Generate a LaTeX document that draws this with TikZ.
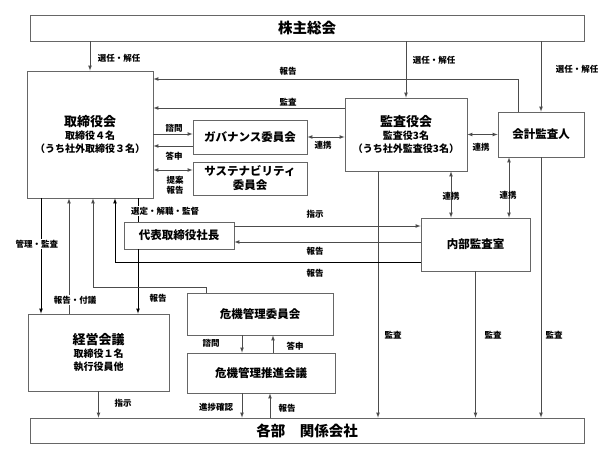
\documentclass[tikz,border=0pt]{standalone}
\usepackage{fontspec}
\setmainfont{Noto Sans CJK JP}
\newcommand\bigttl{\fontsize{14.5}{16}\selectfont\bfseries}
\newcommand\midttl{\fontsize{13}{15}\selectfont\bfseries}
\newcommand\boxttl{\fontsize{11.5}{14}\selectfont\bfseries}
\newcommand\subtxt{\fontsize{10}{13}\selectfont\bfseries}
\begin{document}
\begin{tikzpicture}[x=1pt,y=-1pt,>=latex,
        box/.style n args={2}{draw=black!60,line width=0.8pt,minimum width=#1,minimum height=#2,inner sep=0pt,align=center},
        conn/.style={draw=black!70,line width=0.7pt},
        lbl/.style={font=\fontsize{8.5}{10}\selectfont\bfseries,inner sep=1pt,align=center},
        wlbl/.style={lbl,fill=white}]
    \useasboundingbox (0,0) rectangle (615,460);
    % boxes
    \node[box={554pt}{26pt}] (soukai) at (307,28) {\bigttl 株主総会};
    \node[box={126pt}{127pt},font=\subtxt] (board) at (90,134.5) {{\midttl 取締役会}\\取締役４名\\（うち社外取締役３名）};
    \node[box={114pt}{34pt}] (gov) at (250,137) {\boxttl ガバナンス委員会};
    \node[box={114pt}{33pt},font=\boxttl] (sus) at (250,178.5) {サステナビリティ\\委員会};
    \node[box={122pt}{73pt},font=\subtxt] (kansa) at (406,134.5) {{\midttl 監査役会}\\監査役3名\\（うち社外監査役3名）};
    \node[box={86pt}{45pt}] (auditor) at (541,134.5) {\boxttl 会計監査人};
    \node[box={110pt}{27pt}] (ceo) at (179,235.5) {\boxttl 代表取締役社長};
    \node[box={109pt}{53pt}] (naibu) at (475.5,244.5) {\boxttl 内部監査室};
    \node[box={141pt}{77pt},font=\subtxt] (keiei) at (98.5,352.5) {{\midttl 経営会議}\\取締役１名\\執行役員他};
    \node[box={146pt}{42pt}] (risk) at (260,314) {\boxttl 危機管理委員会};
    \node[box={148pt}{40pt}] (riskp) at (261,373) {\boxttl 危機管理推進会議};
    \node[box={554pt}{25pt}] (bumon) at (307,430.5) {\bigttl 各部　関係会社};
    % shareholders
    \draw[conn,->] (board.north |- soukai.south) -- (board.north);
    \draw[conn,->] (kansa.north |- soukai.south) -- (kansa.north);
    \draw[conn,->] (auditor.north |- soukai.south) -- (auditor.north);
    \node[lbl] (senA) at (119,58) {選任・解任};
    \node[lbl] (senB) at (434,60) {選任・解任};
    \node[lbl] (senC) at (577,69) {選任・解任};
    % board and committees
    \draw[conn,->] ([xshift=-23pt]auditor.north) |- ([yshift=55.5pt]board.east);
    \draw[conn,->] ([yshift=26.5pt]kansa.west) -- ([yshift=26.5pt]kansa.west -| board.east);
    \draw[conn,->] ([yshift=3pt]gov.west -| board.east) -- ([yshift=3pt]gov.west);
    \draw[conn,->] ([yshift=-9pt]gov.west) -- ([yshift=-9pt]gov.west -| board.east);
    \draw[conn,<->] ([yshift=8.5pt]sus.west -| board.east) -- ([yshift=8.5pt]sus.west);
    \draw[conn,<->] (gov.east) -- (gov.east -| kansa.west);
    \draw[conn,<->] (kansa.east) -- (kansa.east -| auditor.west);
    \node[lbl] (hokA) at (288,71) {報告};
    \node[lbl] (kanA) at (288,102) {監査};
    \node[lbl] (shimA) at (174,128) {諮問};
    \node[lbl] (toA) at (174,156) {答申};
    \node[lbl] (teian) at (175,185) {提案\\報告};
    \node[lbl] (renA) at (323,145) {連携};
    \node[lbl] (renB) at (481,147) {連携};
    % audit links
    \draw[conn,<->] ([xshift=45pt]kansa.south) -- ([xshift=45pt]kansa.south |- naibu.north);
    \draw[conn,<->] ([xshift=-32pt]auditor.south) -- ([xshift=-32pt]auditor.south |- naibu.north);
    \node[lbl] (renC) at (451,196) {連携};
    \node[lbl] (renD) at (508,195) {連携};
    \draw[conn,->] ([xshift=-28pt]kansa.south) -- ([xshift=-28pt]kansa.south |- bumon.north);
    \draw[conn,->] (naibu.south) -- (naibu.south |- bumon.north);
    \draw[conn,->] (auditor.south) -- (auditor.south |- bumon.north);
    \node[lbl] (kanB) at (393,335) {監査};
    \node[lbl] (kanC) at (493,335) {監査};
    \node[lbl] (kanD) at (554,335) {監査};
    % president and internal audit
    \draw[conn,->] ([yshift=9.5pt]ceo.east) -- ([yshift=9.5pt]ceo.east -| naibu.west);
    \draw[conn,->] ([yshift=-6.5pt]ceo.east -| naibu.west) -- ([yshift=-6.5pt]ceo.east);
    \draw[conn,draw=black,->] ([yshift=-17.5pt]naibu.west) -| ([xshift=25pt]board.south);
    \node[lbl] (shiA) at (315,214) {指示};
    \node[lbl] (hokB) at (315,251) {報告};
    \node[lbl] (hokC) at (315,273) {報告};
    \draw[conn,draw=black] ([xshift=48pt]board.south) -- ([xshift=48pt]board.south |- ceo.north);
    \node[wlbl] (sentei) at (165,211) {選定・解職・監督};
    \draw[conn,draw=black,->] ([xshift=-41pt]ceo.south) -- ([xshift=-41pt]ceo.south |- keiei.north);
    % board and management
    \draw[conn,draw=black,->] ([xshift=-49pt]board.south) -- ([xshift=-49pt]board.south |- keiei.north);
    \draw[conn,->] ([xshift=-21pt]board.south |- keiei.north) -- ([xshift=-21pt]board.south);
    \draw[conn,->] ([xshift=-54pt]risk.north) -- ++(0,-5) -| ([xshift=3pt]board.south);
    \node[wlbl] (kanri) at (37,244) {管理・監査};
    \node[wlbl] (fugi) at (75,300) {報告・付議};
    \node[lbl] (hokD) at (158,298) {報告};
    % risk management
    \draw[conn,->] ([xshift=-18pt]risk.south) -- ([xshift=-18pt]risk.south |- riskp.north);
    \draw[conn,->] ([xshift=13pt]risk.south |- riskp.north) -- ([xshift=13pt]risk.south);
    \draw[conn,->] ([xshift=-19pt]riskp.south) -- ([xshift=-19pt]riskp.south |- bumon.north);
    \draw[conn,->] ([xshift=9pt]riskp.south |- bumon.north) -- ([xshift=9pt]riskp.south);
    \draw[conn,->] (keiei.south) -- (keiei.south |- bumon.north);
    \node[lbl] (shimB) at (211,343) {諮問};
    \node[lbl] (toB) at (295,346) {答申};
    \node[lbl] (shinchoku) at (216,407) {進捗確認};
    \node[lbl] (hokE) at (287,408) {報告};
    \node[lbl] (shiB) at (123,403) {指示};
\end{tikzpicture}
\end{document}
